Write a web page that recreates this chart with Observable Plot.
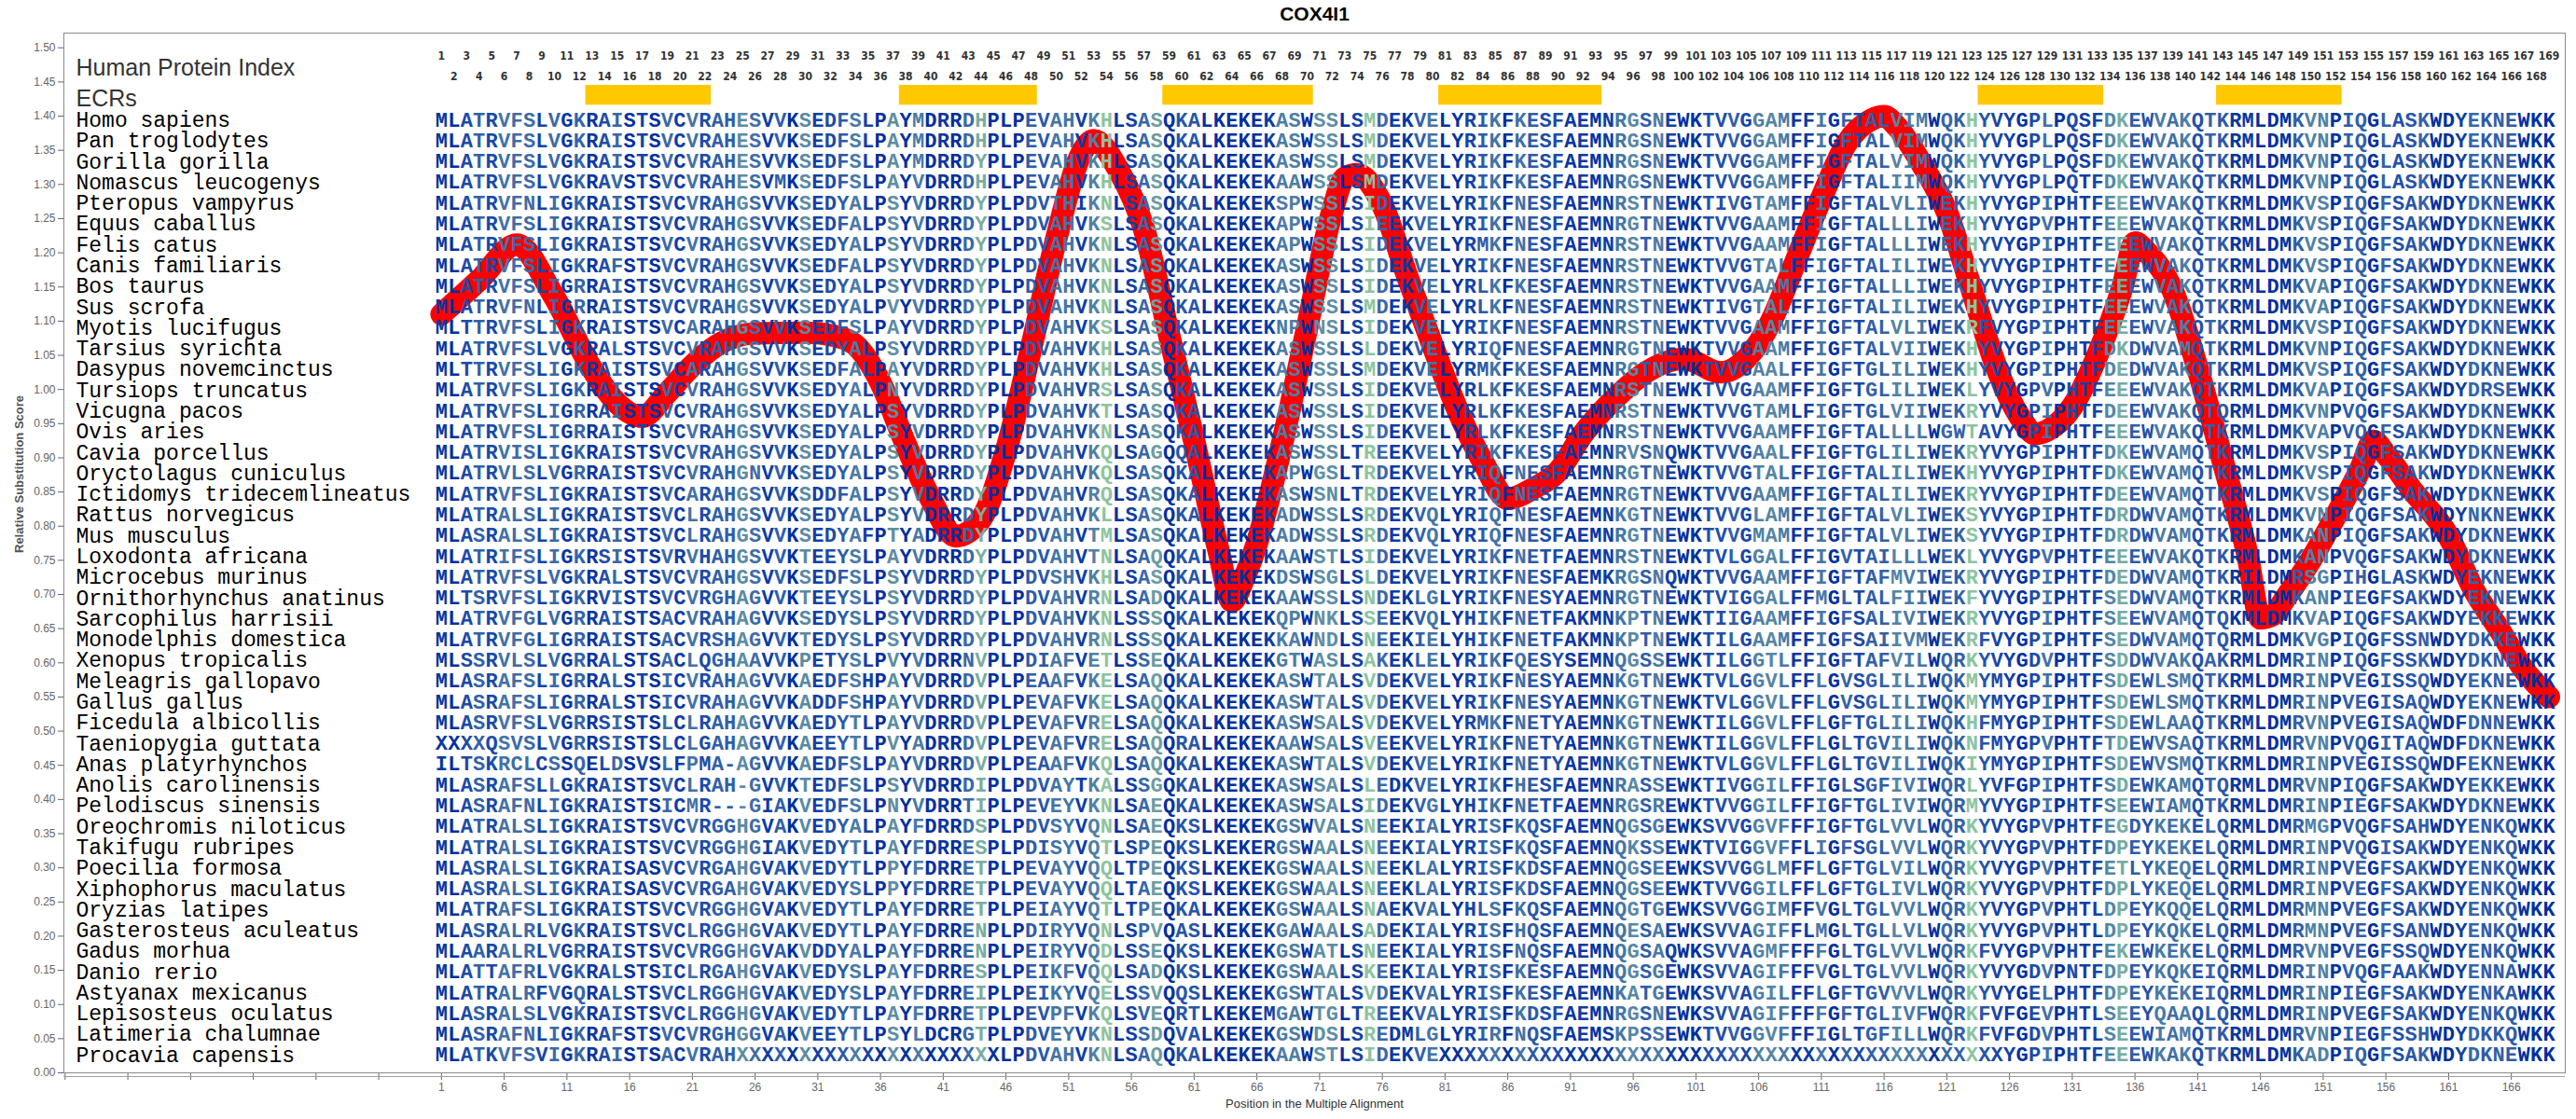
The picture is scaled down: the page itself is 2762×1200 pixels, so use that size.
<!DOCTYPE html>
<html><head><meta charset="utf-8">
<script src="https://cdn.jsdelivr.net/npm/d3@7"></script>
<script src="https://cdn.jsdelivr.net/npm/@observablehq/plot@0.6"></script>
<style>body{margin:0;background:#fff}#chart svg{display:block}</style>
</head><body><div id="chart"></div>
<script>
const species = ["Homo sapiens","Pan troglodytes","Gorilla gorilla","Nomascus leucogenys","Pteropus vampyrus","Equus caballus","Felis catus","Canis familiaris","Bos taurus","Sus scrofa","Myotis lucifugus","Tarsius syrichta","Dasypus novemcinctus","Tursiops truncatus","Vicugna pacos","Ovis aries","Cavia porcellus","Oryctolagus cuniculus","Ictidomys tridecemlineatus","Rattus norvegicus","Mus musculus","Loxodonta africana","Microcebus murinus","Ornithorhynchus anatinus","Sarcophilus harrisii","Monodelphis domestica","Xenopus tropicalis","Meleagris gallopavo","Gallus gallus","Ficedula albicollis","Taeniopygia guttata","Anas platyrhynchos","Anolis carolinensis","Pelodiscus sinensis","Oreochromis niloticus","Takifugu rubripes","Poecilia formosa","Xiphophorus maculatus","Oryzias latipes","Gasterosteus aculeatus","Gadus morhua","Danio rerio","Astyanax mexicanus","Lepisosteus oculatus","Latimeria chalumnae","Procavia capensis"];

// alignment columns 1-57
const seqPart1 = [
"MLATRVFSLVGKRAISTSVCVRAHESVVKSEDFSLPAYMDRRDHPLPEVAHVKHLSA",
"MLATRVFSLVGKRAISTSVCVRAHESVVKSEDFSLPAYMDRRDHPLPEVAHVKHLSA",
"MLATRVFSLVGKRAISTSVCVRAHESVVKSEDFSLPAYMDRRDYPLPEVAHVKHLSA",
"MLATRVFSLVGKRAVSTSVCVRAHESVMKSEDFSLPAYVDRRDHPLPEVAHVKHLSA",
"MLATRVFNLIGKRAISTSVCVRAHGSVVKSEDYALPSYVDRRDYPLPDVTHIKNLSA",
"MLATRVFSLIGKRAISTSVCVRAHGSVVKSEDFALPSYVDRRDYPLPDVAHVKSLSA",
"MLATRVFSLIGKRAISTSVCVRAHGSVVKSEDYALPSYVDRRDYPLPDVAHVKNLSA",
"MLATRVFSLIGKRAFSTSVCVRAHGSVVKSEDFALPSYVDRRDYPLPDVAHVKNLSA",
"MLATRVFSLIGRRAISTSVCVRAHGSVVKSEDYALPSYVDRRDYPLPDVAHVKNLSA",
"MLATRVFNLIGRRAISTSVCVRAHGSVVKSEDYALPVYVDRRDYPLPDVAHVKNLSA",
"MLTTRVFSLIGKRAISTSVCARAHGSVVKSEDFSLPAYVDRRDYPLPDVAHVKSLSA",
"MLATRVFSLVGKRALSTSVCVRAHGSVVKSEDYALPSYVDRRDYPLPDVAHVKHLSA",
"MLTTRVFSLIGKRAISTSVCARAHGSVVKSEDFALPAYVDRRDYPLPDVAHVKHLSA",
"MLATRVFSLIGKRAISTSVCVRAHGSVVKSEDYALPNYVDRRDYPLPDVAHVRSLSA",
"MLATRVFSLIGRRAISTSVCVRAHGSVVKSEDYALPSYVDRRDYPLPDVAHVKTLSA",
"MLATRVFSLIGRRAISTSVCVRAHGSVVKSEDYALPSYVDRRDYPLPDVAHVKNLSA",
"MLATRVISLIGKRAISTSVCVRAHGSVVKSEDYALPSYVDRRDYPLPDVAHVKQLSA",
"MLATRVLSLVGRRAISTSVCVRAHGNVVKSEDYALPSYVDRRDYPLPDVAHVKQLSA",
"MLATRVFSLIGKRAISTSVCARAHGSVVKSDDFALPSYVDRRDYPLPDVAHVRQLSA",
"MLATRALSLIGKRAISTSVCLRAHGSVVKSEDYALPSYVDRRDYPLPDVAHVKLLSA",
"MLASRALSLIGKRAISTSVCLRAHGSVVKSEDYAFPTYADRRDYPLPDVAHVTMLSA",
"MLATRIFSLIGKRSISTSVRVHAHGSVVKTEEYSLPAYVDRRDYPLPDVAHVTNLSA",
"MLATRVFSLVGKRALSTSVCVRAHGSVVKSEDFSLPSYVDRRDYPLPDVSHVKHLSA",
"MLTSRVFSLIGKRVISTSVCVRGHAGVVKTEEYSLPSYVDRRDYPLPDVAHVRNLSA",
"MLATRVFGLVGRRAISTSACVRAHAGVVKSEDYSLPSYVDRRDYPLPDVAHVKNLSS",
"MLATRVFGLIGRRAISTSACVRSHAGVVKTEDYSLPSYVDRRDYPLPDVAHVRNLSS",
"MLSSRVLSLVGRRALSTSACLQGHAAVVKPETYSLPVYVDRRNVPLPDIAFVETLSS",
"MLASRAFSLIGRRALSTSICVRAHAGVVKAEDFSHPAYVDRRDVPLPEAAFVKELSA",
"MLASRAFSLIGRRALSTSICVRAHAGVVKADDFSHPAYVDRRDVPLPEVAFVKELSA",
"MLASRVFSLVGRRSISTSLCLRAHAGVVKAEDYTLPAYVDRRDVPLPEVAFVRELSA",
"XXXXQSVSLVGRRSISTSLCLGAHAGVVKAEEYTLPVYADRRDVPLPEVAFVRELSA",
"ILTSKRCLCSSQELDSVSLFPMA-AGVVKAEDFSLPAYVDRRDVPLPEAAFVKQLSA",
"MLASRAFSLLGKRAISTSVCLRAH-GVVKTEDFSLPSYVDRRDIPLPDVAYTKALSS",
"MLASRAFNLIGKRAISTSICMR---GIAKVEDFSLPNYVDRRTIPLPEVEYVKNLSA",
"MLATRALSLIGKRAISTSVCVRGGHGVAKVEDYALPAYFDRRDSPLPDVSYVQNLSA",
"MLATRALSLIGKRAISTSVCVRGGHGIAKVEDYTLPAYFDRRESPLPDISYVQTLSP",
"MLASRALSLIGKRAISASVCVRGAHGVAKVEDYTLPPYFDRRETPLPEVAYVQQLTP",
"MLASRALSLIGKRAISASVCVRGAHGVAKVEDYSLPPYFDRRETPLPEVAYVQQLTA",
"MLATRAFSLIGKRAISTSVCVRGGHGVAKVEDYTLPAYFDRRETPLPEIAYVQTLTP",
"MLASRALRLVGKRAISTSVCLRGGHGVAKVEDYTLPAYFDRRENPLPDIRYVQNLSP",
"MLAARALRLVGRRAISTSVCVRGGHGVAKVDDYALPAYFDRRENPLPEIRYVQDLSS",
"MLATTAFRLVGKRALSTSICLRGAHGVAKVEDYSLPAYFDRRESPLPEIKFVQQLSA",
"MLATRALRFVGQRALSTSVCLRGGHGVAKVEDYSLPAYFDRREIPLPEIKYVQELSS",
"MLASRALSLVGKRAISTSVCLRGGHGVAKVEDYTLPAYFDRRETPLPEVPFVKQLSV",
"MLASRAFNLIGKRAFSTSVCVRGHGGVAKVEEYTLPSYLDCRGTPLPDVEYVKNLSS",
"MLATKVFSVIGKRAISTSACVRAHXXXXXXXXXXXXXXXXXXXXXLPDVAHVKNLSA"];

// alignment columns 58-114
const seqPart2 = [
"SQKALKEKEKASWSSLSMDEKVELYRIKFKESFAEMNRGSNEWKTVVGGAMFFIGFT",
"SQKALKEKEKASWSSLSMDEKVELYRIKFKESFAEMNRGSNEWKTVVGGAMFFIGFT",
"SQKALKEKEKASWSSLSMDEKVELYRIKFKESFAEMNRGSNEWKTVVGGAMFFIGFT",
"SQKALKEKEKAAWSSLSMDEKVELYRIKFKESFAEMNRGSNEWKTVVGGAMFFIGFT",
"SQKALKEKEKSPWSSLSIDEKVELYRIKFNESFAEMNRSTNEWKTIVGTAMFFIGFT",
"SQKALKEKEKAPWSSLSIEEKVELYRIKFNESFAEMNRGTNEWKTVVGAAMFFIGFT",
"SQKALKEKEKAPWSSLSIDEKVELYRMKFNESFAEMNRSTNEWKTVVGAAMFFIGFT",
"SQKALKEKEKASWSSLSIDEKVELYRIKFNESFAEMNRSTNEWKTVVGTALFFIGFT",
"SQKALKEKEKASWSSLSIDEKVELYRLKFKESFAEMNRSTNEWKTVVGAAMFFIGFT",
"SQKALKEKEKASWSSLSMDEKVELYRLKFNESFAEMNRSTNEWKTIVGTALFFIGFT",
"SQKALKEKEKNPWNSLSIDEKVELYRIKFNESFAEMNRSTNEWKTVVGAAMFFIGFT",
"SQKALKEKEKASWSSLSLDEKVELYRIQFNESFAEMNRGTNEWKTVVGAAMFFIGFT",
"SQKALKEKEKASWSSLSMDEKVELYRMKFKESFAEMNRGTNEWKTVVGAALFFIGFT",
"SQKALKEKEKASWSSLSIDEKVELYRLKFKESFAEMNRSTNEWKTVVGAAMFFIGFT",
"SQKALKEKEKASWSSLSIDEKVELYRLKFKESFAEMNRSTNEWKTVVGTAMLFIGFT",
"SQKALKEKEKASWSSLSIDEKVELYRLKFKESFAEMNRSTNEWKTVVGAAMFFIGFT",
"GQQALKEKEKASWSSLTREEKVELYRIKFKESFAEMNRVSNQWKTVVGAALFFIGFT",
"SQKALKEKEKAPWGSLTRDEKVELYRIQFNESFAEMNRGTNEWKTVVGTALFFIGFT",
"SQKALKEKEKASWSNLTRDEKVELYRIQFNESFAEMNRGTNEWKTVVGAAMFFIGFT",
"SQKALKEKEKADWSSLSRDEKVQLYRIQFNESFAEMNKGTNEWKTVVGLAMFFIGFT",
"SQKALKEKEKADWSSLSRDEKVQLYRIQFNESFAEMNRGTNEWKTVVGMAMFFIGFT",
"QQKALKEKEKAAWSTLSIDEKVELYRIKFNETFAEMNRSTNEWKTVLGGALFFIGVT",
"SQKALKEKEKDSWSGLSLDEKVELYRIKFNESFAEMKRGSNQWKTVVGAAMFFIGFT",
"DQKALKEKEKAAWSSLSNDEKLGLYRIKFNESYAEMNRGTNEWKTVIGGALFFMGLT",
"SQKALKEKEKQPWNKLSSEEKVQLYHIKFNETFAKMNKPTNEWKTIIGAAMFFIGFS",
"SQKALKEKEKKAWNDLSNEEKIELYHIKFNETFAKMNKPTNEWKTILGAAMFFIGFS",
"EQKALKEKEKGTWASLSAKEKLELYRIKFQESYSEMNQGSSEWKTILGGTLFFIGFT",
"QQKALKEKEKASWTALSVDEKVELYRIKFNESYAEMNKGTNEWKTVLGGVLFFLGVS",
"QQKALKEKEKASWTALSVDEKVELYRIKFNESYAEMNKGTNEWKTVLGGVLFFLGVS",
"QQKALKEKEKASWSALSVDEKVELYRMKFNETYAEMNKGTNEWKTILGGVLFFLGFT",
"QQRALKEKEKAAWSALSVEEKVELYRIKFNETYAEMNKGTNEWKTILGGVLFFLGLT",
"QQKALKEKEKASWTALSVDEKVELYRIKFNETYAEMNKGTNEWKTVLGGVLFFLGLT",
"GQKALKEKEKASWSALSLEDKVELYRIKFHESFAEMNRASSEWKTIVGGILFFIGLS",
"EQKALKEKEKASWSALSIDEKVGLYHIKFNETFAEMNRGSREWKTVVGGILFFIGFT",
"EQKSLKEKEKGSWVALSNEEKIALYRISFKQSFAEMNQGSGEWKSVVGGVFFFIGFT",
"EQKSLKEKERGSWAALSNEEKIALYRISFKQSFAEMNQKSSEWKTVIGGVFFLIGFS",
"EQKSLKEKEKGSWAALSNEEKLALYRISFKDSFAEMNQGSEEWKSVVGGLMFFLGFT",
"EQKSLKEKEKGSWAALSNEEKLALYRISFKDSFAEMNQGSEEWKTVVGGILFFLGFT",
"EQKALKEKEKGSWAALSNAEKVALYHLSFKQSFAEMNQGTGEWKSVVGGIMFFVGLT",
"VQASLKEKEKGAWAALSADEKIALYRISFHQSFAEMNQESAEWKSVVAGIFFLMGLT",
"EQKSLKEKEKGSWATLSNEEKIALYRISFNQSFAEMNQGSAQWKSVVAGMFFFFGLT",
"DQKSLKEKEKGSWAALSKEEKIALYRISFKESFAEMNQGSGEWKSVVAGIFFFVGLT",
"VQQSLKEKEKGSWTALSVDEKVALYRISFKESFAEMNKATGEWKSVVAGILFFLGFT",
"EQRTLKEKEMGAWTGLTREEKVALYRISFKDSFAEMNRGSNEWKSVVAGIFFFFGFT",
"DQVALKEKEKGSWDSLSREDMLGLYRIRFNQSFAEMSKPSSEWKTVVGGVFFFIGLT",
"QQKALKEKEKAAWSTLSIDEKVEXXXXXXXXXXXXXXXXXXXXXXXXXXXXXXXXXX"];

// alignment columns 115-169
const seqPart3 = [
"ALVIMWQKHYVYGPLPQSFDKEWVAKQTKRMLDMKVNPIQGLASKWDYEKNEWKK",
"ALVIMWQKHYVYGPLPQSFDKEWVAKQTKRMLDMKVNPIQGLASKWDYEKNEWKK",
"ALVIMWQKHYVYGPLPQSFDKEWVAKQTKRMLDMKVNPIQGLASKWDYEKNEWKK",
"ALIIMWQKHYVYGPLPQTFDKEWVAKQTKRMLDMKVNPIQGLASKWDYEKNEWKK",
"ALVLIWEKHYVYGPIPHTFEEEWVAKQTKRMLDMKVSPIQGFSAKWDYDKNEWKK",
"ALLLIWEKHYVYGPVPHTFEEEWVAKQTKRMLDMKVSPIQGFSAKWDYDKNEWKK",
"ALLLIWEKHYVYGPIPHTFEEEWVAKQTKRMLDMKVSPIQGFSAKWDYDKNEWKK",
"ALILIWEKHYVYGPIPHTFEEEWVAKQTKRMLDMKVSPIQGFSAKWDYDKNEWKK",
"ALLLIWEKHYVYGPIPHTFEEEWVAKQTKRMLDMKVAPIQGFSAKWDYDKNEWKK",
"ALILIWEKHYVYGPIPHTFEEEWVAKQTKRMLDMKVAPIQGFSAKWDYDKNEWKK",
"ALVLIWEKRFVYGPIPHTFEEEWVAKQTKRMLDMKVSPIQGFSAKWDYDKNEWKK",
"ALVIIWEKHYVYGPIPHTFDKDWVAMQTKRMLDMKVNPIQGFSAKWDYDKNEWKK",
"GLILIWEKHYVYGPIPHTFDEDWVAKQTKRMLDMKVSPIQGFSAKWDYDKNEWKK",
"GLILIWEKLYVYGPVPHTFEEEWVAKQTKRMLDMKVAPIQGFSAKWDYDRSEWKK",
"GLVIIWEKRYVYGPIPHTFDEEWVAKQTQRMLDMKVNPVQGFSAKWDYDKNEWKK",
"ALLLLWGWTAVYGPIPHTFEEEWVAKQTKRMLDMKVAPVQGFSAKWDYDKNEWKK",
"GLILIWEKRYVYGPIPHTFDKEWVAMQTKRMLDMKVSPIQGFSAKWDYDKNEWKK",
"ALILIWEKHYVYGPIPHTFDKEWVAMQTKRMLDMKVSPIQGFSAKWDYDKNEWKK",
"ALILIWEKRYVYGPIPHTFDEEWVAMQTKRMLDMKVSPIQGFSAKWDYDKNEWKK",
"ALVLIWEKSYVYGPIPHTFDRDWVAMQTKRMLDMKVNPIQGFSAKWDYNKNEWKK",
"ALVLIWEKSYVYGPIPHTFDRDWVAMQTKRMLDMKANPIQGFSAKWDYDKNEWKK",
"AILLLWEKLYVYGPVPHTFEEEWVAKQTKRMLDMKANPVQGFSAKWDYDKNEWKK",
"AFMVIWEKRYVYGPIPHTFDEDWVAMQTKRILDMRSGPIHGLASKWDYEKNEWKK",
"ALFIIWEKFYVYGPIPHTFSEDWVAMQTKRMLDMKANPIEGFSAKWDYEKNEWKK",
"ALIVIWEKRYVYGPIPHTFSEEWVAMQTQKMLDMKVAPIQGFSAKWDYEKKEWKK",
"AIIVMWEKRFVYGPIPHTFSEDWVAMQTQRMLDMKVGPIQGFSSNWDYDKKEWKK",
"AFVILWQRKYVYGDVPHTFSDDWVAKQAKRMLDMRINPIQGFSSKWDYDKNEWKK",
"GLILIWQKMYMYGPIPHTFSDEWLSMQTKRMLDMRINPVEGISSQWDYEKNEWKK",
"GLILIWQKMYMYGPIPHTFSDEWLSMQTKRMLDMRINPVEGISAQWDYEKNEWKK",
"GLILIWQKHFMYGPIPHTFSDEWLAAQTKRMLDMRVNPVEGISAQWDFDNNEWKK",
"GVILIWQKNFMYGPVPHTFTDEWVSAQTKRMLDMRVNPVQGITAQWDFDKNEWKK",
"GVILIWQKIYMYGPIPHTFSDEWVSMQTKRMLDMRINPVEGISSQWDFEKNEWKK",
"GFIVIWQRLYVFGPIPHTFSDEWKAMQTQRMLDMRVNPIQGFSAKWDYEKKEWKK",
"GLIVIWQRMYVYGPIPHTFSEEWIAMQTKRMLDMRINPIEGFSAKWDYDKNEWKK",
"GLVVLWQRKYVYGPVPHTFEGDYKEKELQRMLDMRMGPVQGFSAHWDYENKQWKK",
"GLVVLWQRKYVYGPVPHTFDPEYKEKELQRMLDMRINPVQGISAKWDYENKQWKK",
"GLVILWQRKYVYGPVPHTFETLYKEQELQRMLDMRINPVEGFSAKWDYENKQWKK",
"GLIVLWQRKYVYGPVPHTFDPLYKEQELQRMLDMRINPVEGFSAKWDYENKQWKK",
"GLVVLWQRKYVYGPVPHTLDPEYKQQELQRMLDMRMNPVEGFSAKWDYENKQWKK",
"GLLVLWQRKYVYGPVPHTLDPEYKQKELQRMLDMRMNPVEGFSANWDYENKQWKK",
"GLVVLWQRKFVYGPVPHTFEKEWKEKELQRMLDMRVNPVEGFSSQWDYENKQWKK",
"GLVVLWQRKYVYGDVPNTFDPEYKQKEIQRMLDMRINPVQGFAAKWDYENNAWKK",
"GVVVLWQRKYVYGELPHTFDPEYKEKEIQRMLDMRINPIEGFSAKWDYENKAWKK",
"GLIVFWQRKFVFGEVPHTLSEEYQAAQLQRMLDMRINPVEGFSAKWDYENKQWKK",
"GFILLWQRKFVFGDVPHTLSEEWIAMQTKRMLDMRVNPIEGFSSHWDYDKKQWKK",
"XXXXXXXXXXXYGPIPHTFEEEWKAKQTKRMLDMKADPIQGFSAKWDYDKNEWKK"];

// Evolutionarily conserved regions (human protein index)
const ecrStart = [13, 38, 59, 81, 124, 143];
const ecrEnd   = [22, 48, 70, 93, 133, 152];

// Relative substitution score along the alignment
const scorePos = [1,4,7,10,13,15,17,19,21,23,26,30,33,34,36,38,40,42,44,46,48,50,52,53,55,57,59,61,63,64,65,66,68,70,72,73,74,76,78,80,82,84,86,88,90,92,95,97,100,103,105,107,109,111,113,115,116,117,119,121,123,125,127,128,129,131,133,135,136,137,139,141,143,145,146,147,148,150,152,154,155,156,158,161,163,165,167,169];
const scoreVal = [1.11,1.16,1.212,1.135,1.03,0.98,0.96,0.995,1.035,1.065,1.082,1.083,1.075,1.065,1.01,0.92,0.84,0.785,0.81,0.91,1.06,1.22,1.345,1.365,1.32,1.235,1.08,0.925,0.76,0.69,0.725,0.775,0.92,1.09,1.26,1.31,1.315,1.27,1.165,1.065,0.97,0.895,0.84,0.855,0.88,0.935,0.995,1.025,1.045,1.025,1.045,1.10,1.19,1.28,1.36,1.395,1.40,1.385,1.33,1.26,1.145,1.03,0.955,0.935,0.94,0.975,1.05,1.15,1.215,1.2,1.145,1.03,0.895,0.755,0.665,0.67,0.695,0.75,0.815,0.885,0.925,0.905,0.855,0.785,0.707,0.65,0.59,0.55];

const xTicks = d3.range(-29, 170, 5);
const yTicks = d3.range(0, 31).map(i => i / 20);

// ---- build ----
const nPos = 169;
const sequences = species.map((_, i) => seqPart1[i] + seqPart2[i] + seqPart3[i]);

const entropy = d3.range(nPos).map(j => {
  const chars = sequences.map(s => s[j]).filter(c => c && c !== "X" && c !== "-");
  const counts = Array.from(d3.rollup(chars, v => v.length, c => c).values());
  const n = d3.sum(counts);
  return -d3.sum(counts, k => (k / n) * Math.log2(k / n));
});
const shade = d3.scaleLinear()
  .domain([0, 0.5, 1.1, 1.8, 2.5])
  .range(["#00309e", "#1846a8", "#3564a8", "#5a8ba4", "#8cc49f"])
  .clamp(true);

const cells = [];
sequences.forEach((s, r) => {
  for (let j = 0; j < Math.min(s.length, nPos); j++) cells.push({p: j + 1, r, ch: s[j], color: shade(entropy[j])});
});

const rowTop = 1.3945, rowStep = 0.03041;
const rowY = r => rowTop - r * rowStep;
const scores = scorePos.map((p, i) => ({p, v: scoreVal[i]}));
const ecrs = ecrStart.map((s, i) => ({s, e: ecrEnd[i]}));
const idx = d3.range(1, nPos + 1);

const mono = "'Liberation Mono','DejaVu Sans Mono',monospace";
const narrow = "'DejaVu Sans Condensed','Liberation Sans Narrow',sans-serif";

const chart = Plot.plot({
  width: 2762, height: 1200,
  marginTop: 35, marginBottom: 50, marginLeft: 68, marginRight: 12,
  style: {fontFamily: "'Liberation Sans',Arial,sans-serif", fontSize: "12px", color: "#666", background: "#fff"},
  x: {domain: [-29.1, 170.3], ticks: xTicks, tickFormat: d => d >= 1 ? String(d) : "", tickSize: 8, label: null},
  y: {domain: [0, 1.5215], ticks: yTicks, tickFormat: d3.format(".2f"), tickSize: 6, label: null},
  color: {type: "identity"},
  marks: [
    Plot.ruleY([0], {dy: 4, stroke: "#a0a0a0"}),
    Plot.rect(ecrs, {x1: d => d.s - 0.5, x2: d => d.e + 0.5, y1: 1.416, y2: 1.445, fill: "#ffc800"}),
    Plot.line(scores, {x: "p", y: "v", stroke: "#ff0000", strokeWidth: 24, curve: "monotone-x", strokeLinejoin: "round"}),
    Plot.text(cells, {x: "p", y: d => rowY(d.r), text: "ch", fill: "color", fontFamily: mono, fontWeight: "bold", fontSize: 22}),
    Plot.text(species, {y: (d, i) => rowY(i), text: d => d, frameAnchor: "left", textAnchor: "start", lineAnchor: "middle", dx: 13, fontFamily: mono, fontSize: 23, fill: "#000"}),
    Plot.text(idx.filter(d => d % 2 === 1), {x: d => d, text: d => String(d), frameAnchor: "top", lineAnchor: "middle", dy: 25, fontFamily: narrow, fontWeight: "bold", fontSize: 12, fill: "#333"}),
    Plot.text(idx.filter(d => d % 2 === 0), {x: d => d, text: d => String(d), frameAnchor: "top", lineAnchor: "middle", dy: 47, fontFamily: narrow, fontWeight: "bold", fontSize: 12, fill: "#333"}),
    Plot.text(["Human Protein Index"], {frameAnchor: "top-left", lineAnchor: "middle", dx: 13, dy: 37, textAnchor: "start", fontSize: 25, fill: "#333"}),
    Plot.text(["ECRs"], {frameAnchor: "top-left", lineAnchor: "middle", dx: 13, dy: 70, textAnchor: "start", fontSize: 25, fill: "#333"}),
    Plot.text(["COX4I1"], {frameAnchor: "top", lineAnchor: "middle", dy: -20, fontWeight: "bold", fontSize: 21, fill: "#000"}),
    Plot.text(["Position in the Multiple Alignment"], {frameAnchor: "bottom", lineAnchor: "middle", dy: 33, fontSize: 13, fill: "#333"}),
    Plot.text(["Relative Substitution Score"], {frameAnchor: "left", lineAnchor: "middle", dx: -48, rotate: -90, fontSize: 13, fontWeight: "bold", fill: "#555"}),
    Plot.frame({stroke: "#8a8a8a"})
  ]
});
document.getElementById("chart").append(chart);
</script>
</body></html>
